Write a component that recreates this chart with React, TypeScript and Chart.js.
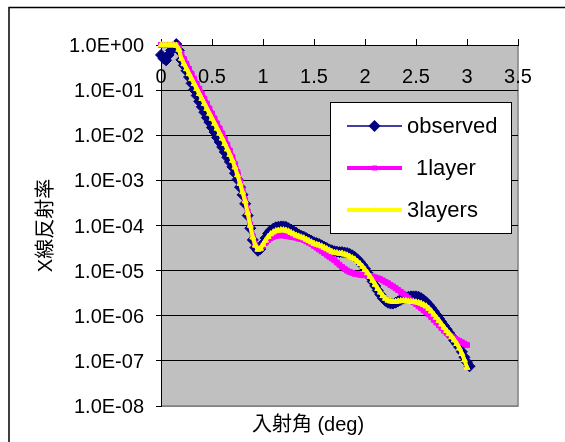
import React, { useEffect, useRef } from "react";
import { Chart, registerables } from "chart.js";

Chart.register(...registerables);

// Incidence angle (deg)
const angles = [
  0, 0.025, 0.05, 0.075, 0.1, 0.125, 0.15, 0.175, 0.2, 0.225,
  0.25, 0.275, 0.3, 0.325, 0.35, 0.375, 0.4, 0.425, 0.45, 0.475,
  0.5, 0.525, 0.55, 0.575, 0.6, 0.625, 0.65, 0.675, 0.7, 0.725,
  0.75, 0.775, 0.8, 0.825, 0.85, 0.875, 0.9, 0.925, 0.95, 0.975,
  1, 1.025, 1.05, 1.075, 1.1, 1.125, 1.15, 1.175, 1.2, 1.225,
  1.25, 1.275, 1.3, 1.325, 1.35, 1.375, 1.4, 1.425, 1.45, 1.475,
  1.5, 1.525, 1.55, 1.575, 1.6, 1.625, 1.65, 1.675, 1.7, 1.725,
  1.75, 1.775, 1.8, 1.825, 1.85, 1.875, 1.9, 1.925, 1.95, 1.975,
  2, 2.025, 2.05, 2.075, 2.1, 2.125, 2.15, 2.175, 2.2, 2.225,
  2.25, 2.275, 2.3, 2.325, 2.35, 2.375, 2.4, 2.425, 2.45, 2.475,
  2.5, 2.525, 2.55, 2.575, 2.6, 2.625, 2.65, 2.675, 2.7, 2.725,
  2.75, 2.775, 2.8, 2.825, 2.85, 2.875, 2.9, 2.925, 2.95, 2.975,
  3, 3.025,
];

// Reflectivity, stored as log10 values
const observedLog = [
  -0.22, -0.3, -0.34, -0.22, -0.12, -0.04, 0.02, -0.12, -0.33, -0.45,
  -0.57, -0.71, -0.85, -0.99, -1.12, -1.25, -1.37, -1.49, -1.61, -1.71,
  -1.83, -1.93, -2.05, -2.15, -2.26, -2.37, -2.49, -2.59, -2.7, -2.84,
  -2.98, -3.15, -3.32, -3.52, -3.78, -4.06, -4.32, -4.49, -4.56, -4.52,
  -4.4, -4.28, -4.18, -4.11, -4.07, -4.04, -4.03, -4.02, -4.02, -4.03,
  -4.06, -4.09, -4.13, -4.16, -4.2, -4.23, -4.25, -4.28, -4.31, -4.34,
  -4.37, -4.39, -4.41, -4.44, -4.47, -4.5, -4.53, -4.55, -4.57, -4.58,
  -4.59, -4.59, -4.6, -4.61, -4.63, -4.66, -4.7, -4.75, -4.81, -4.88,
  -4.96, -5.05, -5.14, -5.24, -5.34, -5.44, -5.53, -5.61, -5.67, -5.71,
  -5.73, -5.73, -5.71, -5.68, -5.65, -5.62, -5.6, -5.58, -5.57, -5.57,
  -5.57, -5.58, -5.61, -5.65, -5.7, -5.76, -5.83, -5.9, -5.98, -6.06,
  -6.14, -6.22, -6.3, -6.38, -6.46, -6.55, -6.62, -6.7, -6.8, -6.92,
  -7.03, -7.12,
];

const oneLayerLog = [
  0, 0, 0, 0, 0, 0, 0, -0.06, -0.2, -0.31,
  -0.42, -0.53, -0.64, -0.75, -0.86, -0.97, -1.08, -1.19, -1.3, -1.41,
  -1.52, -1.63, -1.74, -1.85, -1.96, -2.08, -2.21, -2.34, -2.48, -2.64,
  -2.82, -3.02, -3.22, -3.43, -3.69, -3.98, -4.24, -4.43, -4.52, -4.51,
  -4.45, -4.38, -4.32, -4.28, -4.25, -4.23, -4.22, -4.22, -4.22, -4.23,
  -4.24, -4.25, -4.26, -4.27, -4.29, -4.3, -4.32, -4.35, -4.38, -4.41,
  -4.45, -4.49, -4.53, -4.57, -4.61, -4.65, -4.69, -4.73, -4.77, -4.82,
  -4.87, -4.92, -4.96, -5.0, -5.03, -5.05, -5.07, -5.08, -5.09, -5.1,
  -5.1, -5.11, -5.12, -5.13, -5.15, -5.17, -5.19, -5.22, -5.25, -5.28,
  -5.32, -5.35, -5.39, -5.43, -5.47, -5.51, -5.56, -5.61, -5.66, -5.7,
  -5.74, -5.79, -5.83, -5.88, -5.92, -5.97, -6.03, -6.09, -6.15, -6.21,
  -6.27, -6.33, -6.38, -6.42, -6.46, -6.5, -6.53, -6.56, -6.59, -6.62,
  -6.65,
];

const threeLayersLog = [
  0, 0, 0, 0, 0, 0, -0.01, -0.1, -0.3, -0.42,
  -0.53, -0.64, -0.75, -0.86, -0.97, -1.08, -1.19, -1.3, -1.41, -1.52,
  -1.63, -1.74, -1.85, -1.96, -2.07, -2.19, -2.31, -2.43, -2.56, -2.71,
  -2.88, -3.07, -3.26, -3.46, -3.72, -4.0, -4.26, -4.44, -4.53, -4.51,
  -4.42, -4.33, -4.25, -4.19, -4.15, -4.12, -4.11, -4.1, -4.1, -4.11,
  -4.13, -4.16, -4.19, -4.22, -4.24, -4.26, -4.28, -4.31, -4.34, -4.37,
  -4.4, -4.42, -4.44, -4.46, -4.49, -4.52, -4.55, -4.58, -4.6, -4.61,
  -4.62, -4.62, -4.64, -4.66, -4.69, -4.72, -4.75, -4.8, -4.85, -4.91,
  -4.98, -5.05, -5.13, -5.22, -5.31, -5.4, -5.48, -5.56, -5.62, -5.66,
  -5.68, -5.69, -5.69, -5.68, -5.67, -5.67, -5.67, -5.68, -5.69, -5.69,
  -5.7, -5.71, -5.73, -5.76, -5.79, -5.84, -5.9, -5.97, -6.04, -6.11,
  -6.19, -6.26, -6.33, -6.4, -6.47, -6.54, -6.62, -6.72, -6.84, -6.98,
  -7.15,
];

const seriesNames = ["observed", "1layer", "3layers"];
const yDecades = [1, 1e-1, 1e-2, 1e-3, 1e-4, 1e-5, 1e-6, 1e-7, 1e-8];
const xTickLabels = ["0", "0.5", "1", "1.5", "2", "2.5", "3", "3.5"];
const yTitle = "X線反射率";
const xTitle = "入射角 (deg)";

const NAVY = "#000080";
const MAGENTA = "#FF00FF";
const YELLOW = "#FFFF00";
const PLOT_BG = "#C0C0C0";
const FONT = "'Liberation Sans', Arial, 'Noto Sans CJK JP', sans-serif";

const toPoints = (logs: number[]) =>
  logs.map((e, i) => ({ x: angles[i], y: Math.pow(10, e) }));

const formatExp = (v: number) => {
  const e = Math.round(Math.log10(v));
  const sign = e >= 0 ? "+" : "-";
  return `1.0E${sign}${String(Math.abs(e)).padStart(2, "0")}`;
};

const decorPlugin = {
  id: "decor",
  beforeDraw(chart: any) {
    const { ctx, chartArea: a } = chart;
    ctx.save();
    ctx.fillStyle = "#ffffff";
    ctx.fillRect(0, 0, chart.width, chart.height);
    // outer frame
    ctx.strokeStyle = "#000";
    ctx.lineWidth = 1.5;
    ctx.beginPath();
    ctx.moveTo(9, chart.height);
    ctx.lineTo(9, 7.5);
    ctx.lineTo(chart.width, 7.5);
    ctx.stroke();
    // plot background
    ctx.fillStyle = PLOT_BG;
    ctx.fillRect(a.left, a.top, a.right - a.left, a.bottom - a.top);
    ctx.strokeStyle = "#808080";
    ctx.lineWidth = 1.5;
    ctx.beginPath();
    ctx.moveTo(a.left, a.bottom);
    ctx.lineTo(a.right, a.bottom);
    ctx.lineTo(a.right, a.top);
    ctx.stroke();
    ctx.restore();
  },
  beforeDatasetsDraw(chart: any) {
    const { ctx } = chart;
    const xs = chart.scales.x;
    ctx.save();
    ctx.fillStyle = "#000";
    ctx.font = `20px ${FONT}`;
    ctx.textAlign = "center";
    ctx.textBaseline = "middle";
    xs.ticks.forEach((t: any, i: number) => {
      const label = xTickLabels[i] ?? String(t.value);
      ctx.fillText(label, xs.getPixelForValue(t.value), 77);
    });
    ctx.restore();
  },
  afterDraw(chart: any) {
    const { ctx } = chart;
    ctx.save();
    // x axis title
    ctx.fillStyle = "#000";
    ctx.font = `20px ${FONT}`;
    ctx.textAlign = "center";
    ctx.textBaseline = "middle";
    ctx.fillText(xTitle, 308, 425);

    // legend box
    const bx = 330, by = 102, bw = 181, bh = 131;
    ctx.fillStyle = "#fff";
    ctx.fillRect(bx, by, bw, bh);
    ctx.strokeStyle = "#000";
    ctx.lineWidth = 1;
    ctx.strokeRect(bx + 0.5, by + 0.5, bw, bh);

    const rows = [
      { y: 126, color: NAVY, width: 1.5, marker: "diamond", textX: 407 },
      { y: 168, color: MAGENTA, width: 4, marker: "square", textX: 416 },
      { y: 210, color: YELLOW, width: 4, marker: "triangle", textX: 407 },
    ];
    rows.forEach((r, i) => {
      ctx.strokeStyle = r.color;
      ctx.lineWidth = r.width;
      ctx.beginPath();
      ctx.moveTo(347, r.y);
      ctx.lineTo(402, r.y);
      ctx.stroke();
      const cx = 374.5;
      ctx.fillStyle = r.color;
      ctx.beginPath();
      if (r.marker === "diamond") {
        const s = 6;
        ctx.moveTo(cx - s, r.y);
        ctx.lineTo(cx, r.y - s);
        ctx.lineTo(cx + s, r.y);
        ctx.lineTo(cx, r.y + s);
        ctx.closePath();
      } else if (r.marker === "square") {
        ctx.rect(cx - 2.5, r.y - 2.5, 5, 5);
      } else {
        ctx.moveTo(cx, r.y - 3);
        ctx.lineTo(cx + 3, r.y + 2);
        ctx.lineTo(cx - 3, r.y + 2);
        ctx.closePath();
      }
      ctx.fill();
      ctx.fillStyle = "#000";
      ctx.font = `22px ${FONT}`;
      ctx.textAlign = "left";
      ctx.textBaseline = "middle";
      ctx.fillText(seriesNames[i], r.textX, r.y + 1);
    });
    ctx.restore();
  },
};

export default function App() {
  const canvasRef = useRef<HTMLCanvasElement | null>(null);

  useEffect(() => {
    const canvas = canvasRef.current;
    if (!canvas) return;
    const chart = new Chart(canvas, {
      type: "line",
      data: {
        datasets: [
          {
            label: seriesNames[0],
            data: toPoints(observedLog),
            borderColor: NAVY,
            backgroundColor: NAVY,
            borderWidth: 2,
            pointStyle: "rectRot",
            pointRadius: 5.5,
            pointBorderWidth: 1,
            pointBorderColor: NAVY,
            pointBackgroundColor: NAVY,
            clip: false,
            order: 2,
          },
          {
            label: seriesNames[1],
            data: toPoints(oneLayerLog),
            borderColor: MAGENTA,
            backgroundColor: MAGENTA,
            borderWidth: 5,
            pointStyle: "rect",
            pointRadius: 3.5,
            pointBorderWidth: 1,
            pointBorderColor: MAGENTA,
            pointBackgroundColor: MAGENTA,
            clip: false,
            order: 1,
          },
          {
            label: seriesNames[2],
            data: toPoints(threeLayersLog),
            borderColor: YELLOW,
            backgroundColor: YELLOW,
            borderWidth: 4,
            pointStyle: "triangle",
            pointRadius: 3.5,
            pointBorderWidth: 1,
            pointBorderColor: YELLOW,
            pointBackgroundColor: YELLOW,
            clip: false,
            order: 0,
          },
        ],
      },
      options: {
        responsive: false,
        animation: false,
        layout: { padding: { left: 0, top: 45, right: 47, bottom: 36 } },
        plugins: {
          legend: { display: false },
          tooltip: { enabled: false },
        },
        elements: { line: { tension: 0 } },
        scales: {
          x: {
            type: "linear",
            position: "top",
            min: 0,
            max: 3.5,
            ticks: { display: false, stepSize: 0.5 },
            grid: {
              drawOnChartArea: false,
              drawTicks: true,
              tickLength: 6,
              tickColor: "#000",
            },
            border: { display: true, color: "#000", width: 1 },
            afterFit: (s: any) => {
              s.height = 0;
            },
          },
          y: {
            type: "logarithmic",
            position: "left",
            min: 1e-8,
            max: 1,
            afterBuildTicks: (s: any) => {
              s.ticks = yDecades.map((v) => ({ value: v }));
            },
            ticks: {
              color: "#000",
              font: { family: FONT, size: 20 },
              padding: 12,
              labelOffset: 1.5,
              autoSkip: false,
              callback: (v: any) => formatExp(Number(v)),
            },
            grid: {
              color: (c: any) =>
                c.tick && c.tick.value === 1e-8 ? "#808080" : "#000",
              lineWidth: 1,
              tickLength: 5,
              tickColor: "#000",
            },
            border: { display: true, color: "#000", width: 1 },
            title: {
              display: true,
              text: yTitle,
              color: "#000",
              font: { family: FONT, size: 20 },
              padding: { top: 34, bottom: 0 },
            },
            afterFit: (s: any) => {
              s.width = 161;
            },
          },
        },
      },
      plugins: [decorPlugin],
    });
    return () => chart.destroy();
  }, []);

  return (
    <div style={{ position: "fixed", left: 0, top: 0, width: 565, height: 442 }}>
      <canvas
        ref={canvasRef}
        width={565}
        height={442}
        style={{ width: 565, height: 442, display: "block" }}
      />
    </div>
  );
}
